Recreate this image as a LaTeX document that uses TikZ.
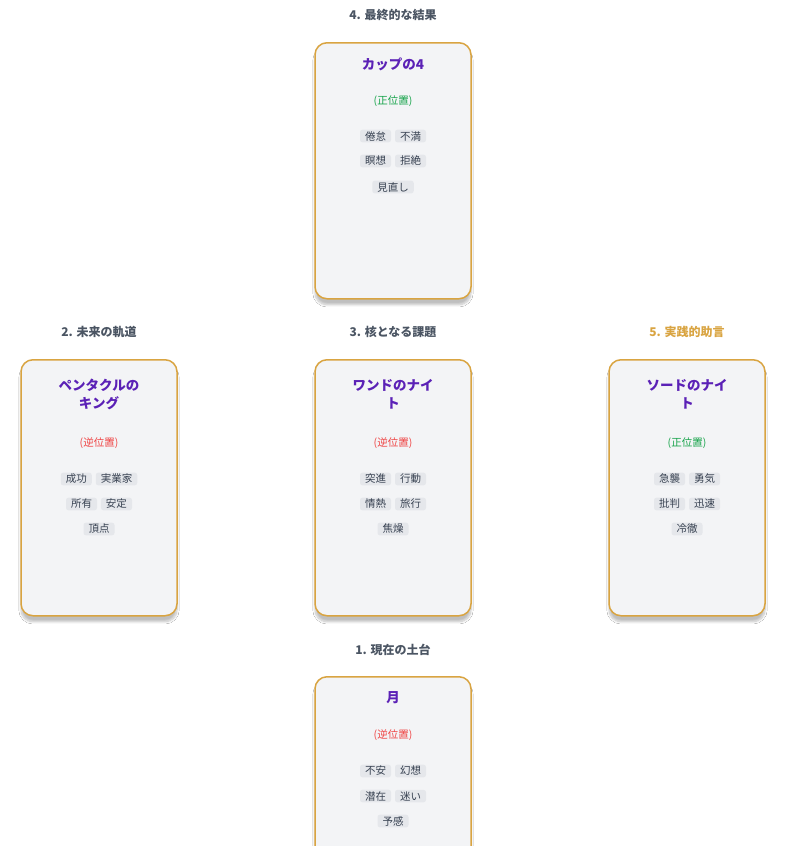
\documentclass[tikz,border=0pt]{standalone}
\usepackage{fontspec}
\setmainfont{Noto Sans CJK JP}
\usetikzlibrary{shadows.blur}
\definecolor{gold}{HTML}{D9A441}
\definecolor{cardbg}{HTML}{F3F4F6}
\definecolor{tagbg}{HTML}{E5E7EB}
\definecolor{ttl}{HTML}{5B21B6}
\definecolor{hdr}{HTML}{4B5563}
\definecolor{rev}{HTML}{EF4444}
\definecolor{up}{HTML}{16A34A}
\definecolor{tagtx}{HTML}{374151}
\tikzset{
 card/.style={draw=gold,line width=1.5pt,fill=cardbg,rounded corners=12pt,minimum width=156pt,minimum height=256pt,anchor=north,blur shadow={shadow blur steps=8,shadow xshift=0pt,shadow yshift=-6pt,shadow opacity=25}},
 hd/.style={font=\bfseries\fontsize{12}{14}\selectfont,text=hdr},
 tt/.style={font=\bfseries\fontsize{13.5}{18}\selectfont,text=ttl,align=center},
 ori/.style={font=\fontsize{10.5}{12}\selectfont},
 tag/.style={fill=tagbg,rounded corners=2.5pt,inner xsep=5pt,inner ysep=1.5pt,font=\fontsize{10.5}{12}\selectfont,text=tagtx},
}
\newcommand\tg[1]{\tikz[baseline=(t.base)]\node[tag](t){#1};}
\newcommand\tgap{\hspace{4pt}}
\begin{document}
\begin{tikzpicture}[x=1pt,y=-1pt]
\useasboundingbox[fill=white] (0,0) rectangle (792,846);
% top
\node[hd] (h4) at (393,15) {4. 最終的な結果};
\node[card] (c4) at (393,42) {};
\node[tt] (t4) at (393,64) {カップの4};
\node[ori,text=up] (o4) at (393,101) {(正位置)};
\node (g4a) at (393,136) {\tg{倦怠}\tgap\tg{不満}};
\node (g4b) at (393,161) {\tg{瞑想}\tgap\tg{拒絶}};
\node (g4c) at (393,187) {\tg{見直し}};
% middle left
\node[hd] (h2) at (99,332) {2. 未来の軌道};
\node[card] (c2) at (99,359) {};
\node[tt] (t2) at (99,394) {ペンタクルの\\キング};
\node[ori,text=rev] (o2) at (99,443) {(逆位置)};
\node (g2a) at (99,479) {\tg{成功}\tgap\tg{実業家}};
\node (g2b) at (99,504) {\tg{所有}\tgap\tg{安定}};
\node (g2c) at (99,529) {\tg{頂点}};
% middle center
\node[hd] (h3) at (393,332) {3. 核となる課題};
\node[card] (c3) at (393,359) {};
\node[tt] (t3) at (393,394) {ワンドのナイ\\ト};
\node[ori,text=rev] (o3) at (393,443) {(逆位置)};
\node (g3a) at (393,479) {\tg{突進}\tgap\tg{行動}};
\node (g3b) at (393,504) {\tg{情熱}\tgap\tg{旅行}};
\node (g3c) at (393,529) {\tg{焦燥}};
% middle right
\node[hd,text=gold] (h5) at (687,332) {5. 実践的助言};
\node[card] (c5) at (687,359) {};
\node[tt] (t5) at (687,394) {ソードのナイ\\ト};
\node[ori,text=up] (o5) at (687,443) {(正位置)};
\node (g5a) at (687,479) {\tg{急襲}\tgap\tg{勇気}};
\node (g5b) at (687,504) {\tg{批判}\tgap\tg{迅速}};
\node (g5c) at (687,529) {\tg{冷徹}};
% bottom
\node[hd] (h1) at (393,650) {1. 現在の土台};
\node[card] (c1) at (393,676) {};
\node[tt] (t1) at (393,698) {月};
\node[ori,text=rev] (o1) at (393,735) {(逆位置)};
\node (g1a) at (393,771) {\tg{不安}\tgap\tg{幻想}};
\node (g1b) at (393,796) {\tg{潜在}\tgap\tg{迷い}};
\node (g1c) at (393,821) {\tg{予感}};
\end{tikzpicture}
\end{document}
